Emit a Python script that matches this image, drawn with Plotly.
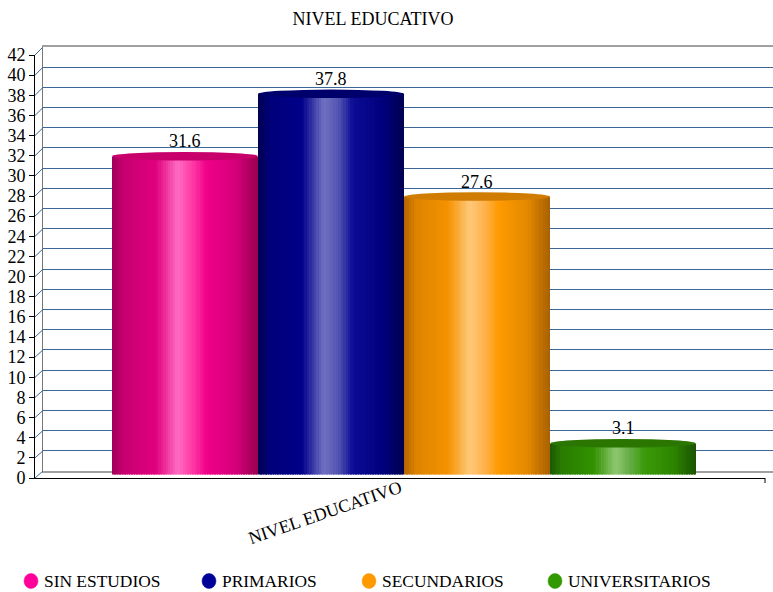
import plotly.graph_objects as go

# ---- data ----
title_text = "NIVEL EDUCATIVO"
category = "NIVEL EDUCATIVO"
series_names = ["SIN ESTUDIOS", "PRIMARIOS", "SECUNDARIOS", "UNIVERSITARIOS"]
series_values = [31.6, 37.8, 27.6, 3.1]
y_ticks = list(range(0, 44, 2))

# ---- styling ----
FONT = "Liberation Serif, Times New Roman, serif"
legend_colors = ["#FF0099", "#000099", "#FF9900", "#339900"]
top_colors = ["#C8006C", "#00006C", "#CF7C00", "#2A7600"]
# cylinder shading stops (position across the bar, colour)
shading = [
    [(0.0, "#9E0057"), (0.08, "#C80070"), (0.3, "#E0007E"), (0.45, "#FF6CC2"),
     (0.55, "#FF3AA6"), (0.65, "#F00088"), (0.85, "#D4007A"), (1.0, "#98004F")],
    [(0.0, "#00004E"), (0.08, "#00007A"), (0.3, "#00008A"), (0.45, "#7070C2"),
     (0.55, "#5454B2"), (0.65, "#0C0C96"), (0.85, "#00007E"), (1.0, "#000050")],
    [(0.0, "#B06400"), (0.08, "#DC8400"), (0.3, "#F59200"), (0.45, "#FFC87A"),
     (0.55, "#FFB24E"), (0.65, "#FF9A00"), (0.85, "#E28800"), (1.0, "#A86000")],
    [(0.0, "#1C5600"), (0.08, "#2A7C00"), (0.3, "#329200"), (0.45, "#8EC670"),
     (0.55, "#64AC44"), (0.65, "#3A9A08"), (0.85, "#2C8400"), (1.0, "#1A5200")],
]


def hex_rgb(h):
    h = h.lstrip("#")
    return tuple(int(h[i:i + 2], 16) for i in (0, 2, 4))


def shade_at(stops, t):
    for (t0, c0), (t1, c1) in zip(stops[:-1], stops[1:]):
        if t0 <= t <= t1:
            f = (t - t0) / (t1 - t0) if t1 > t0 else 0
            a, b = hex_rgb(c0), hex_rgb(c1)
            r = [round(a[i] + (b[i] - a[i]) * f) for i in range(3)]
            return "rgb(%d,%d,%d)" % tuple(r)
    return stops[-1][1]


# ---- pixel geometry of the pseudo-3D box ----
W, H = 773, 592
L, R, T, B = 35, 0, 47, 114
PW, PH = W - L - R, H - T - B          # 738 x 431
DX, DY = 8, 7                          # depth offset of the back wall
FRONT_W, FRONT_H = PW - DX, 423

fig = go.Figure()

# empty traces so the front and back axes get drawn
fig.add_trace(go.Scatter(x=[None], y=[None], xaxis="x", yaxis="y",
                         showlegend=False, hoverinfo="skip"))
fig.add_trace(go.Scatter(x=[None], y=[None], xaxis="x2", yaxis="y2",
                         showlegend=False, hoverinfo="skip"))

# bars drawn as vertical stripes on the mid-depth plane
n_series = len(series_values)
group = 0.8
bw = group / n_series
N = 60
for i, (name, val) in enumerate(zip(series_names, series_values)):
    left = (1 - group) / 2 + i * bw
    right = left + bw
    d = bw / N
    xs, ws, cols = [], [], []
    for k in range(N):
        x0 = left + k * d
        xs.append(x0)
        ws.append(min(d * 1.6, right - x0))
        cols.append(shade_at(shading[i], (k + 0.5) / N))
    fig.add_trace(go.Bar(
        x=xs, y=[val] * N, width=ws, offset=0,
        marker=dict(color=cols, line=dict(width=0)),
        xaxis="x3", yaxis="y3", showlegend=False, hoverinfo="skip",
        name=name,
    ))
    # cylinder top
    fig.add_shape(type="circle", xref="x3", yref="y3",
                  x0=left, x1=right, y0=val - 0.42, y1=val + 0.42,
                  fillcolor=top_colors[i], line=dict(width=0), layer="above")
    # value label
    fig.add_annotation(x=(left + right) / 2, y=val, xref="x3", yref="y3",
                       text=f"{val}", showarrow=False, yanchor="bottom",
                       yshift=3, font=dict(family=FONT, size=18, color="#000"))

# diagonal ticks joining front axis and back wall
fy0 = 0.0
fy1 = FRONT_H / PH
by0 = DY / PH
by1 = 1.0
for v in y_ticks:
    yf = fy0 + v / 42 * (fy1 - fy0)
    yb = by0 + v / 42 * (by1 - by0)
    fig.add_shape(type="line", xref="paper", yref="paper",
                  x0=0, x1=DX / PW, y0=yf, y1=yb,
                  line=dict(color="#3D6699", width=1))

# small end tick on the floor line
fig.add_shape(type="line", xref="paper", yref="paper",
              x0=FRONT_W / PW, x1=FRONT_W / PW, y0=0, y1=-5 / PH,
              line=dict(color="#000", width=1))

# manual legend
leg_circle_x = [31, 209, 369, 555]
leg_y = 581
for name, col, cx in zip(series_names, legend_colors, leg_circle_x):
    fig.add_shape(type="circle", xref="paper", yref="paper",
                  x0=(cx - 7 - L) / PW, x1=(cx + 7 - L) / PW,
                  y0=(H - B - (leg_y + 7.5)) / PH, y1=(H - B - (leg_y - 7.5)) / PH,
                  fillcolor=col, line=dict(color=col, width=0.5))
    fig.add_annotation(xref="paper", yref="paper",
                       x=(cx + 11 - L) / PW, y=(H - B - leg_y) / PH,
                       xanchor="left", yanchor="middle", showarrow=False,
                       text=name, font=dict(family=FONT, size=17.4, color="#000"))

fig.update_layout(
    width=W, height=H,
    margin=dict(l=L, r=R, t=T, b=B, pad=0),
    paper_bgcolor="white", plot_bgcolor="rgba(0,0,0,0)",
    barmode="overlay", bargap=0,
    showlegend=False,
    title=dict(text=title_text, x=373 / W, xref="container", xanchor="center",
               y=1 - 19 / H, yref="container", yanchor="middle",
               font=dict(family=FONT, size=18, color="#000")),
    # front plane: axis labels
    xaxis=dict(domain=[0, FRONT_W / PW], range=[0, 1], showgrid=False,
               zeroline=False, showline=True, linecolor="#000", linewidth=1,
               tickvals=[0.5], ticktext=[category], tickangle=-19, ticks="",
               ticklabelstandoff=-8,
               tickfont=dict(family=FONT, size=18, color="#000")),
    yaxis=dict(domain=[fy0, fy1], range=[0, 42], tickvals=y_ticks,
               showgrid=False, zeroline=False, showline=True, linecolor="#000",
               linewidth=1, ticks="outside", ticklen=5, tickcolor="#000",
               ticklabelstandoff=0,
               tickfont=dict(family=FONT, size=18, color="#000")),
    # back wall: gridlines
    xaxis2=dict(domain=[DX / PW, 1], range=[0, 1], anchor="y2",
                showgrid=False, zeroline=False, showticklabels=False,
                showline=True, linecolor="#A0A0A0", linewidth=2, mirror=True),
    yaxis2=dict(domain=[by0, by1], range=[0, 42], anchor="x2",
                tickvals=y_ticks[1:-1], showgrid=True, gridcolor="#3D6699",
                gridwidth=1.3, zeroline=False, showticklabels=False, ticks="",
                showline=True, linecolor="#777", linewidth=1),
    # mid-depth plane: cylinders
    xaxis3=dict(domain=[DX / 2 / PW, 1], range=[0, (PW - DX / 2) / FRONT_W],
                anchor="y3", visible=False),
    yaxis3=dict(domain=[DY / 2 / PH, (FRONT_H + DY / 2) / PH], range=[0, 42],
                anchor="x3", visible=False),
)

fig.write_html("out.html")
